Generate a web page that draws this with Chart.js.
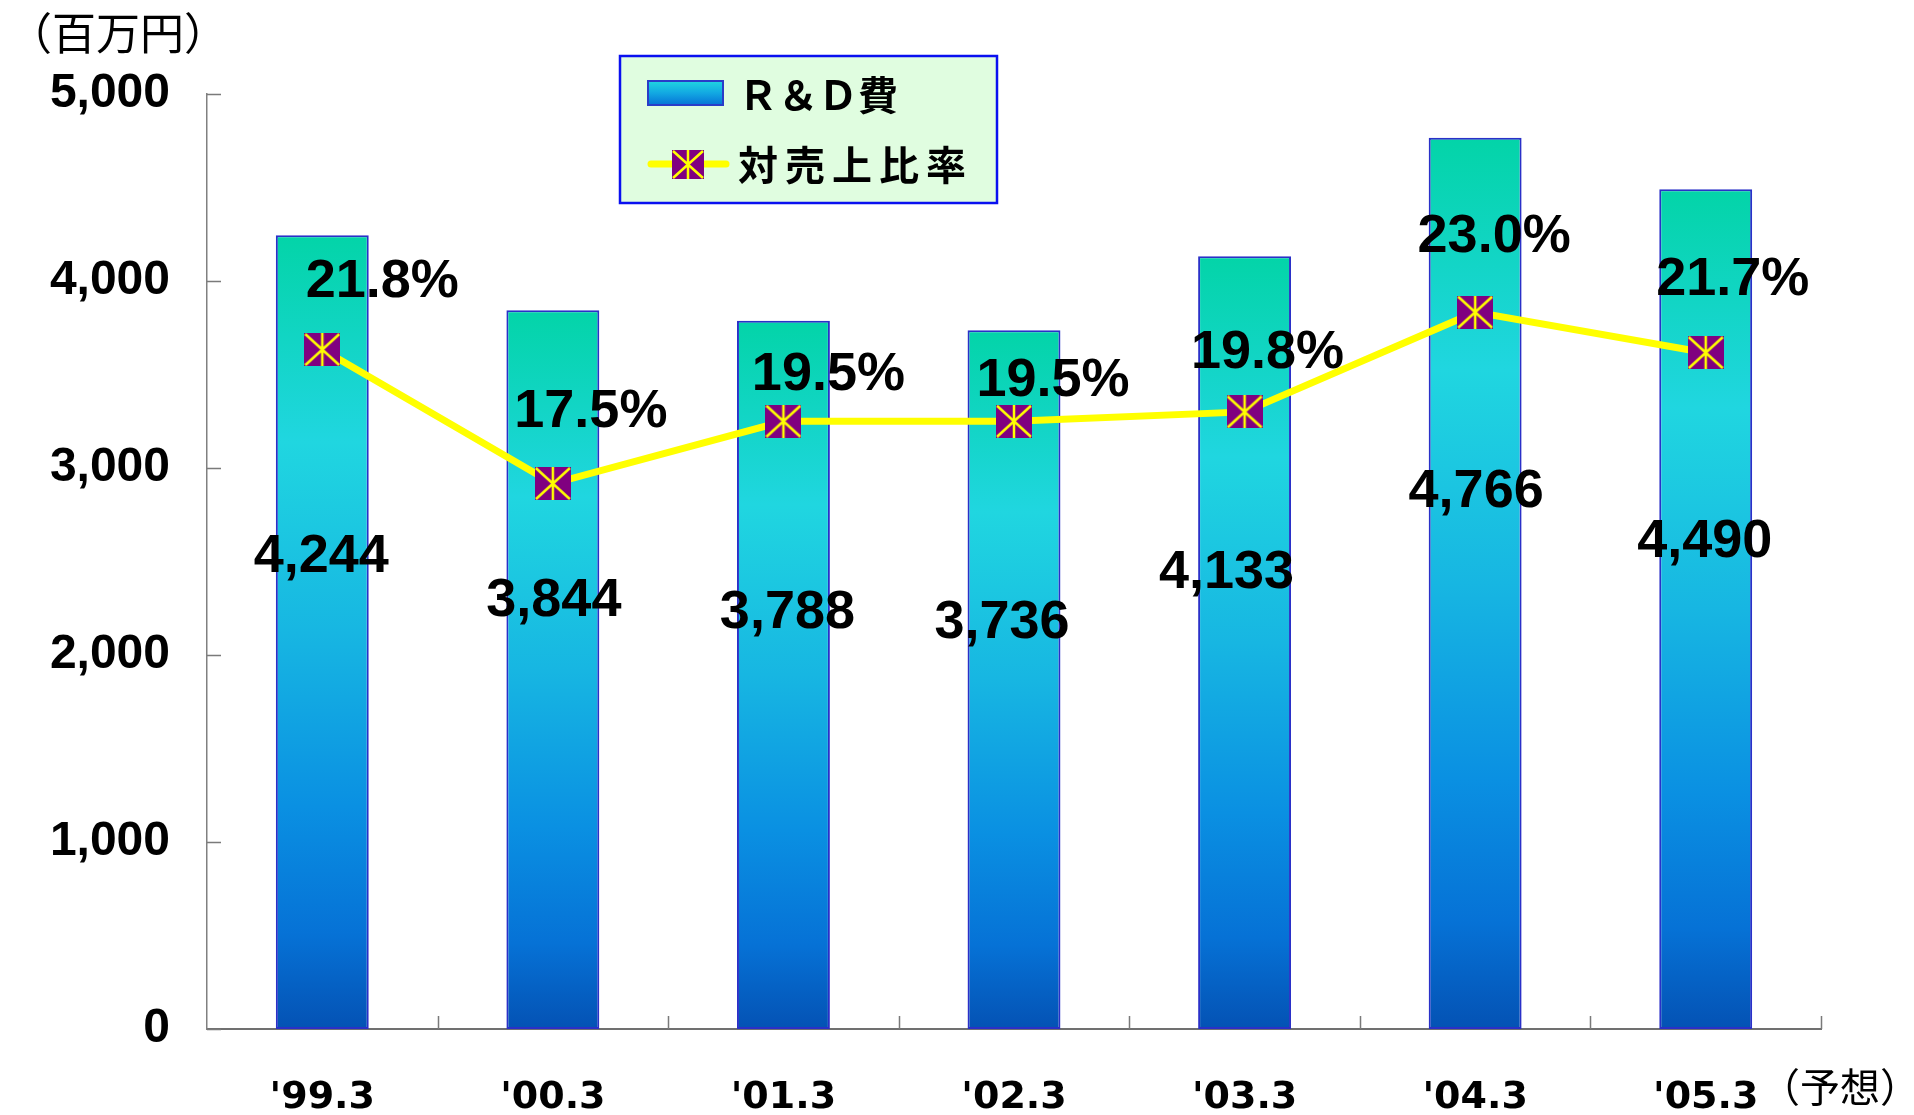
<!DOCTYPE html>
<html lang="ja">
<head>
<meta charset="utf-8">
<title>R&amp;D費と対売上比率</title>
<script src="https://cdn.jsdelivr.net/npm/chart.js@4.4.1/dist/chart.umd.min.js"></script>
<style>
  html, body { margin: 0; padding: 0; background: #fff; }
  #wrap { width: 1914px; height: 1115px; position: relative; }
</style>
</head>
<body>
<div id="wrap"><canvas id="rdChart"></canvas></div>
<script>
// data
const years = ["'99.3", "'00.3", "'01.3", "'02.3", "'03.3", "'04.3", "'05.3"];
const rdCost = [4244, 3844, 3788, 3736, 4133, 4766, 4490]; // 百万円
const salesRatio = [21.8, 17.5, 19.5, 19.5, 19.8, 23.0, 21.7]; // %
const seriesNames = ["Ｒ＆Ｄ費", "対売上比率"];

// label nudges (pixels), only styling
const costLabelNudge = [[-1, -4], [1, -4], [4, 2], [-12, 6], [-18, 0], [1, -11], [-1, 8]];
const ratioLabelOffset = [[60, -67], [38, -71], [45, -46], [39, -40], [23, -59], [19, -75], [27, -73]];

const numFont = "bold 54px 'Liberation Sans', Arial, sans-serif";
const jpFont = "'Noto Sans CJK JP', sans-serif";

// marker: purple square with a yellow asterisk
function makeMarker(w, h) {
  const c = document.createElement("canvas");
  c.width = w;
  c.height = h;
  const g = c.getContext("2d");
  g.fillStyle = "#800080";
  g.fillRect(0, 0, w, h);
  g.strokeStyle = "#ffff00";
  g.lineWidth = 2.5;
  g.beginPath();
  g.moveTo(1, 1); g.lineTo(w - 1, h - 1);
  g.moveTo(w - 1, 1); g.lineTo(1, h - 1);
  g.moveTo(w / 2, 0); g.lineTo(w / 2, h);
  g.stroke();
  return c;
}
const marker = makeMarker(36, 33);
const legendMarker = makeMarker(32, 29);

function fillBarGradient(g) {
  g.addColorStop(0, "#03d4a8");
  g.addColorStop(0.26, "#20d6e0");
  g.addColorStop(0.5, "#17b6e2");
  g.addColorStop(0.72, "#0a90e2");
  g.addColorStop(0.88, "#0672d6");
  g.addColorStop(1, "#0452b4");
  return g;
}

// each bar gets its own gradient, teal on top to dark blue at the base
function barFill(context) {
  const chart = context.chart;
  const { chartArea, scales } = chart;
  if (!chartArea || context.raw === undefined) return "#17b6e2";
  const top = scales.y.getPixelForValue(context.raw);
  const bottom = scales.y.getPixelForValue(0);
  return fillBarGradient(chart.ctx.createLinearGradient(0, top, 0, bottom));
}

const decorations = {
  id: "decorations",
  afterDatasetsDraw(chart) {
    const { ctx, scales } = chart;
    const x = scales.x, y = scales.y, y2 = scales.y2;
    ctx.save();
    ctx.fillStyle = "#000";
    ctx.textAlign = "center";
    ctx.textBaseline = "middle";
    ctx.font = numFont;

    // bar values, a bit above the middle of each bar
    rdCost.forEach((v, i) => {
      const px = x.getPixelForValue(i) + costLabelNudge[i][0];
      const py = y.getPixelForValue(v * 0.59) + costLabelNudge[i][1];
      ctx.fillText(v.toLocaleString("en-US"), px, py);
    });

    // ratio values above the markers
    salesRatio.forEach((v, i) => {
      const px = x.getPixelForValue(i) + ratioLabelOffset[i][0];
      const py = y2.getPixelForValue(v) + ratioLabelOffset[i][1];
      ctx.fillText(v.toFixed(1) + "%", px, py);
    });
    ctx.restore();
  },
  afterDraw(chart) {
    const { ctx, chartArea, scales } = chart;
    const y = scales.y;
    ctx.save();

    // inward tick marks
    ctx.strokeStyle = "#7a7a7a";
    ctx.lineWidth = 1.5;
    ctx.beginPath();
    y.ticks.forEach((t) => {
      const py = Math.round(y.getPixelForValue(t.value)) + 0.5;
      ctx.moveTo(chartArea.left, py);
      ctx.lineTo(chartArea.left + 14, py);
    });
    const n = years.length;
    const step = (chartArea.right - chartArea.left) / n;
    for (let i = 1; i <= n; i++) {
      const px = Math.round(chartArea.left + i * step) + 0.5;
      ctx.moveTo(px, chartArea.bottom);
      ctx.lineTo(px, chartArea.bottom - 13);
    }
    ctx.stroke();

    // unit and forecast notes
    ctx.fillStyle = "#000";
    ctx.textBaseline = "middle";
    ctx.textAlign = "left";
    ctx.font = "44px " + jpFont;
    ctx.fillText("（百万円）", 8, 33);
    ctx.font = "40px " + jpFont;
    ctx.fillText("（予想）", 1760, 1087);

    // legend box
    const lx = 620, ly = 56, lw = 377, lh = 147;
    ctx.fillStyle = "#e0fde0";
    ctx.fillRect(lx, ly, lw, lh);
    ctx.strokeStyle = "#0a10f0";
    ctx.lineWidth = 2.5;
    ctx.strokeRect(lx, ly, lw, lh);

    const sw = ctx.createLinearGradient(0, 81, 0, 105);
    sw.addColorStop(0, "#20d6e0");
    sw.addColorStop(0.5, "#12a8e2");
    sw.addColorStop(1, "#0672d6");
    ctx.fillStyle = sw;
    ctx.fillRect(648, 81, 75, 24);
    ctx.strokeStyle = "#2a3cc8";
    ctx.lineWidth = 2;
    ctx.strokeRect(648, 81, 75, 24);

    ctx.strokeStyle = "#ffff00";
    ctx.lineWidth = 7;
    ctx.lineCap = "round";
    ctx.beginPath();
    ctx.moveTo(651, 164);
    ctx.lineTo(726, 164);
    ctx.stroke();
    ctx.drawImage(legendMarker, 688 - 16, 164 - 14);

    ctx.fillStyle = "#000";
    ctx.font = "bold 40px " + jpFont;
    ctx.letterSpacing = "0px";
    ctx.fillText(seriesNames[0], 738, 95);
    ctx.letterSpacing = "7px";
    ctx.fillText(seriesNames[1], 738, 165);
    ctx.restore();
  }
};

new Chart(document.getElementById("rdChart"), {
  type: "bar",
  data: {
    labels: years,
    datasets: [
      {
        type: "line",
        label: seriesNames[1],
        data: salesRatio,
        yAxisID: "y2",
        order: 0,
        borderColor: "#ffff00",
        borderWidth: 7,
        tension: 0,
        pointStyle: marker,
        pointRadius: 18,
        pointHoverRadius: 18,
      },
      {
        label: seriesNames[0],
        data: rdCost,
        yAxisID: "y",
        order: 1,
        backgroundColor: barFill,
        borderColor: "#2a30c8",
        borderWidth: 2,
        borderSkipped: false,
        categoryPercentage: 1,
        barPercentage: 0.403,
      },
    ],
  },
  options: {
    responsive: true,
    maintainAspectRatio: false,
    animation: false,
    layout: { padding: { top: 94, right: 93, left: 0, bottom: 0 } },
    plugins: {
      legend: { display: false },
      tooltip: { enabled: false },
    },
    scales: {
      x: {
        grid: { display: false, drawTicks: false },
        border: { display: true, color: "#707070", width: 2 },
        ticks: {
          color: "#000",
          padding: 46,
          font: { family: "'DejaVu Sans', sans-serif", size: 38, weight: "bold" },
        },
        afterFit(scale) { scale.height = 86; },
      },
      y: {
        min: 0,
        max: 5000,
        ticks: {
          stepSize: 1000,
          color: "#000",
          padding: 37,
          font: { family: "'Liberation Sans', Arial, sans-serif", size: 48, weight: "bold" },
          callback: (v) => v.toLocaleString("en-US"),
        },
        grid: { display: false, drawTicks: false },
        border: { display: true, color: "#808080", width: 1.5 },
        afterFit(scale) { scale.width = 207; },
      },
      y2: {
        display: false,
        min: 0,
        max: 30,
      },
    },
  },
  plugins: [decorations],
});
</script>
</body>
</html>
